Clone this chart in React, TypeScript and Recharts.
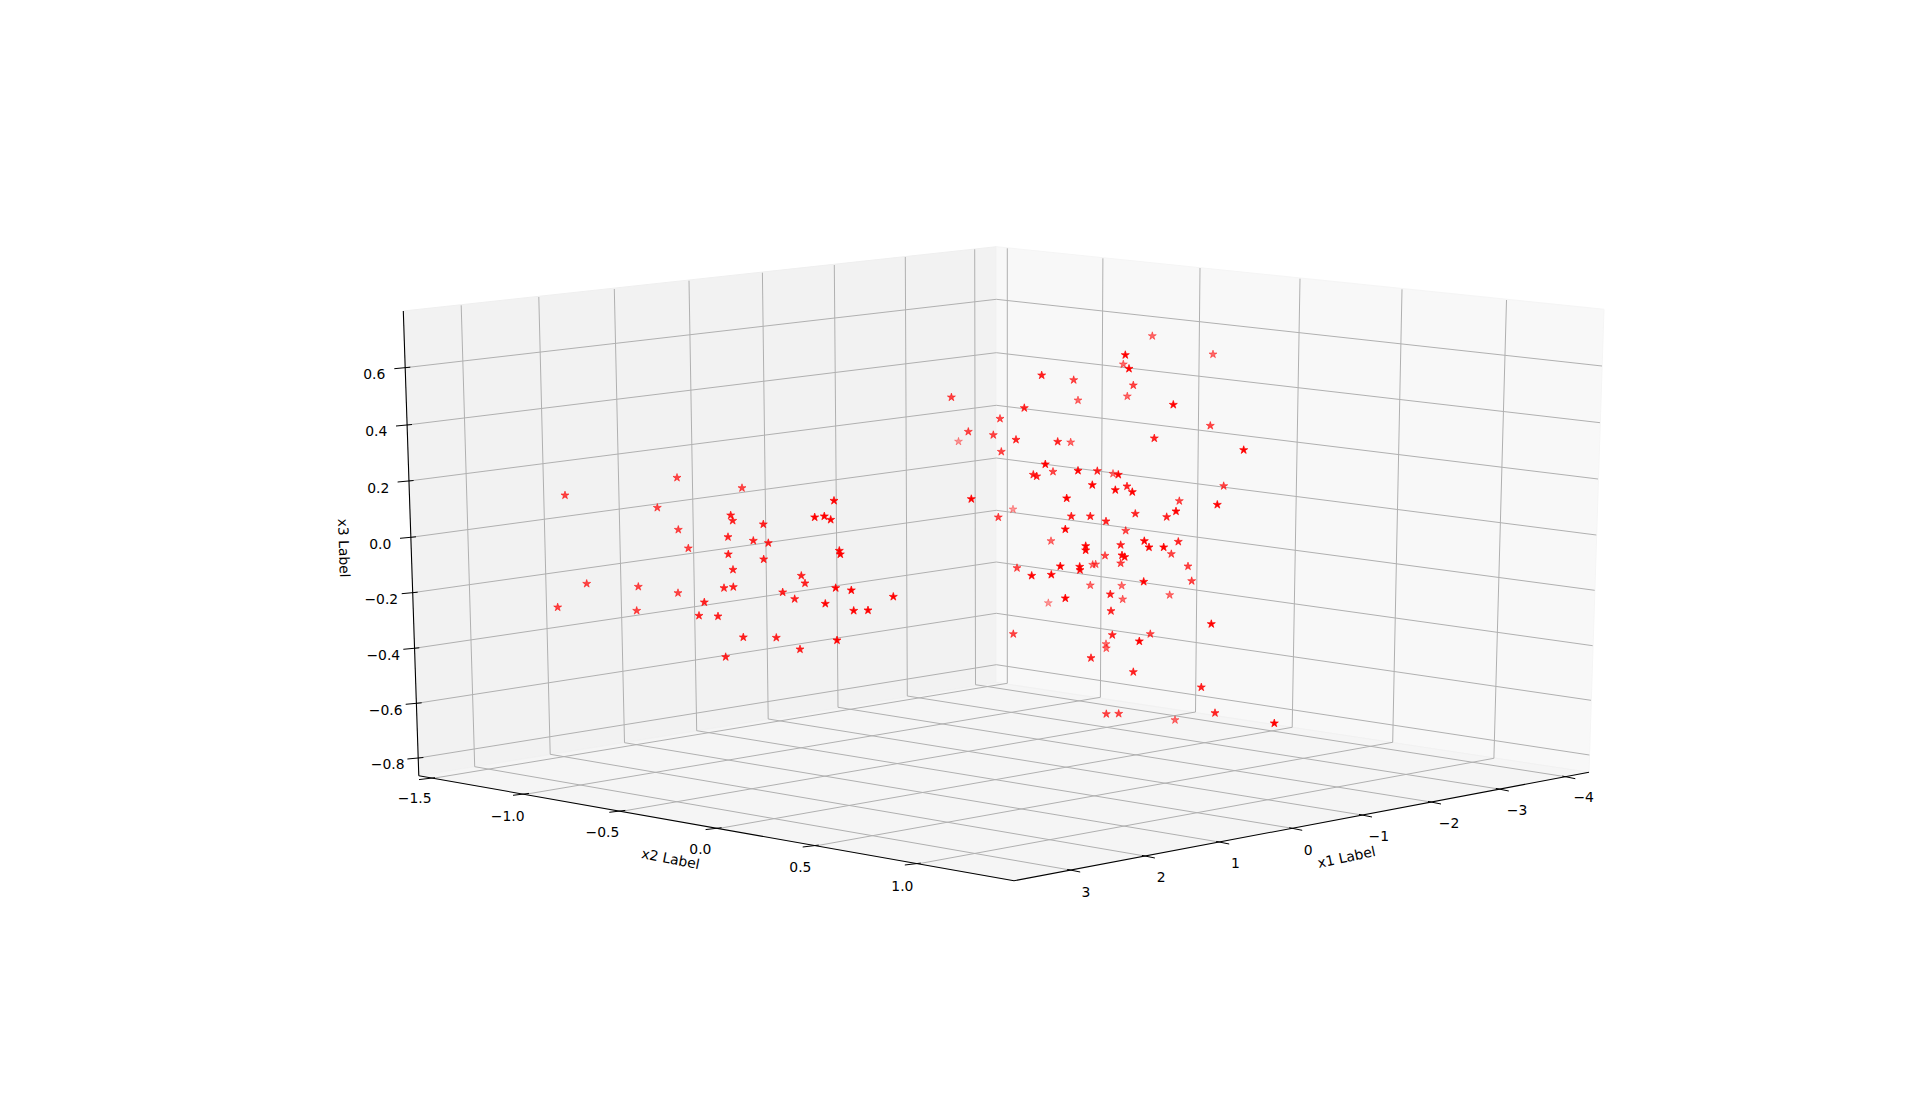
import React from 'react';
import { ScatterChart, Scatter, XAxis, YAxis, Symbols } from 'recharts';

type P = [number, number];

// Projected (plane) readings of the 3D scatter, grouped by depth shade.
const starsNear: P[] = [[814.7,517.3],[825.3,603.7],[839.3,550.7],[840.3,554.3],[853.7,610.7],[868,610.3],[893.3,596.7],[837,640.3],[834,500.7],[824.3,516.3],[830.7,519.7],[851.3,590.3],[835.7,588],[971.3,499],[1125.3,355],[1129,368.7],[1173.3,404.7],[1045.3,464.3],[1078,470.7],[1118.3,474.7],[1092.3,485],[1115.3,490],[1132.3,492],[1066.7,498.3],[1217.3,504.7],[1176,511.3],[1143.7,581.7],[1149,547.3],[1144.3,541],[1163.7,547.3],[1079.7,566.7],[1080,570],[1122,555.3],[1124.7,557],[1065.3,598.3],[1031.7,575.7],[1211.3,624],[1139.3,641.3],[1274.3,723.3],[1243.7,450],[1085.7,546],[1085.7,550.3],[1065.3,529.3],[1060.3,566.3],[1051.3,574.7]];
const starsMid: P[] = [[763.3,524.3],[768.3,543],[753.3,540.7],[763.7,559.3],[801.3,575.7],[805,583.3],[782.7,592.3],[794.7,599],[743.3,637.3],[776.3,637.7],[800,649.3],[725.7,657],[733,569.7],[733.3,587],[724,588],[728,537],[728.3,554.3],[730.7,515.3],[732.7,520.7],[704.3,602.3],[699,615.7],[718,616.3],[1024.3,408],[1016,439.7],[1057.7,441.7],[1154.3,438.3],[1097.3,471],[1127,486.3],[1033.3,474.7],[1036.7,476.3],[1106,521.3],[1071.3,516.3],[1090.3,516.3],[1135.3,513.7],[1166.7,517],[1178.3,541.7],[1120.7,545],[1110.3,594.3],[1111,611],[1112.3,635],[1133.3,672],[1201.3,687.3],[1215,713],[1041.7,375.3],[1091,658]];
const starsFar: P[] = [[565,495.3],[677,477.7],[742,488],[657.3,507.7],[678.3,529.7],[688.3,548.3],[586.7,583.7],[638.3,586.7],[678,593],[557.7,607.3],[636.7,610.7],[1210.3,425.7],[1000,418.7],[968.3,431.7],[993.3,435],[1001.3,451.7],[998.3,517.3],[1053,471.7],[1223.7,486],[1179.3,501],[1125.7,530.7],[1105,555.7],[1120.7,563.3],[1188,566.3],[1191.7,581],[1171.3,554],[1017,568],[1013.3,634],[1150.3,634],[1106.3,714],[1118.7,713.7],[951.4,397.3],[1073.7,380],[1133.3,385.3]];
const starsFarther: P[] = [[1152.3,336],[1213,354.3],[1123.3,364.3],[1127.3,396.3],[1078,400.3],[1070.7,442.3],[1113,473.7],[1051,541],[1092.7,564.7],[1095.7,564.3],[1090.3,585.3],[1121.7,585.7],[1122.7,599.3],[1169.7,595],[1106,644],[1106.3,648.3],[1175,720]];
const starsFarthest: P[] = [[958.5,441.5],[1013,509.3],[1048.3,603]];
const starGroups: [P[], number][] = [[starsFarthest,0.4],[starsFarther,0.58],[starsFar,0.72],[starsMid,0.86],[starsNear,1]];

// Pane outlines
const leftPane: P[] = [[403.3,311],[996.3,246.7],[996.3,682.5],[418.8,775.7]];
const rightPane: P[] = [[996.3,246.7],[1604,309.3],[1589,772.3],[996.3,682.5]];
const floorPane: P[] = [[418.8,775.7],[996.3,682.5],[1589,772.3],[1014,880.7]];

// Tick labels
const x1Labels = ['3','2','1','0','\u22121','\u22122','\u22123','\u22124'];
const x2Labels = ['\u22121.5','\u22121.0','\u22120.5','0.0','0.5','1.0'];
const x3Labels = ['0.6','0.4','0.2','0.0','\u22120.2','\u22120.4','\u22120.6','\u22120.8'];

// x1 grid: wall top, wall bottom, axis foot, label anchor
const x1Top: P[] = [[461.2,305.3],[538.8,297],[614.3,289],[689,280.7],[762.4,272.7],[834.3,265],[905.3,257],[974.7,249.3]];
const x1Bottom: P[] = [[474.7,766.7],[550.2,754.3],[624.5,742.7],[696.7,730.7],[768.2,719],[838,707.3],[907.3,696],[975.5,684.7]];
const x1Foot: P[] = [[1070.2,870],[1144.9,856],[1219.2,842],[1292.2,828.3],[1362,815],[1431,802],[1498.8,789],[1565.3,776.7]];
const x1LabelAt: P[] = [[1086,892.3],[1161.2,877.3],[1235.5,863.3],[1308.2,850.3],[1378.8,836.3],[1449,823],[1517,810.3],[1583.7,797.3]];

// x2 grid
const x2Top: P[] = [[1007.3,248.3],[1102.9,258.3],[1200,268],[1300,278.7],[1402,289.3],[1506.5,300]];
const x2Bottom: P[] = [[1007.3,683.3],[1100.4,697.3],[1195.5,712],[1292.2,727.3],[1392.7,742.3],[1493.9,758.3]];
const x2Foot: P[] = [[433,778.3],[527,794],[623.3,811],[719.6,828.3],[816.7,845.7],[918.8,863.7]];
const x2LabelAt: P[] = [[414.7,798.3],[507.7,815.7],[602.4,832.3],[700.4,849.3],[800.4,867],[902.4,886]];

// x3 grid
const x3Left: P[] = [[405.3,367.7],[407,425],[408.6,481],[411,537.3],[412.7,592.7],[414.3,648.3],[416.7,703.3],[418.4,758]];
const x3Corner: P[] = [[996.3,299.3],[996.3,352.7],[996.3,405.3],[996.3,458],[996.3,510.3],[996.3,562],[996.3,613.3],[996.3,664.7]];
const x3Right: P[] = [[1602,366],[1600,422.7],[1598,479],[1596.3,535],[1594.7,590.3],[1592.7,645.7],[1591,700.3],[1589.4,755]];
const x3LabelAt: P[] = [[374.3,374],[376.3,430.7],[378.3,488],[380.3,544],[381.3,599],[383.3,654.7],[385.7,710],[387.7,763.7]];

// Axis spines
const spines: P[][] = [
  [[403.3,311],[418.8,775.7]],
  [[418.8,775.7],[1014,880.7]],
  [[1014,880.7],[1589,772.3]],
];

const axisTitles: { at: P; text: string; angle: number }[] = [
  { at: [670.6,858.7], text: 'x2 Label', angle: 11 },
  { at: [1346.5,857], text: 'x1 Label', angle: -12 },
  { at: [344,548], text: 'x3 Label', angle: 88 },
];

const toXY = (p: P) => ({ x: p[0], y: p[1] });
const nothing = () => <g />;
const FONT = 'DejaVu Sans';

const seg = (pts: P[], stroke: string, width: number, key: string) => (
  <Scatter key={key} data={pts.map(toXY)} shape={nothing} line={{ stroke, strokeWidth: width }} isAnimationActive={false} />
);

const pane = (pts: P[], fill: string, edge: string, key: string) => (
  <Scatter key={key} data={[...pts, pts[0]].map(toXY)} shape={nothing} line={{ stroke: edge, strokeWidth: 1, fill }} isAnimationActive={false} />
);

const labelShape = (props: any) => {
  const { cx, cy, payload } = props;
  return (
    <text x={cx} y={cy} textAnchor="middle" dominantBaseline="central" fontFamily={FONT} fontSize={13.9} fill="#000"
      transform={payload.angle ? `rotate(${payload.angle} ${cx} ${cy})` : undefined}>{payload.text}</text>
  );
};

const labelSeries = (at: P[], texts: string[], key: string) => (
  <Scatter key={key} data={at.map((p, i) => ({ x: p[0], y: p[1], text: texts[i] }))} shape={labelShape} isAnimationActive={false} />
);

const starShape = (alpha: number) => (props: any) => (
  <Symbols cx={props.cx} cy={props.cy} type="star" size={20} sizeType="area"
    fill="#ff0000" fillOpacity={alpha} stroke="#ff0000" strokeOpacity={alpha * 0.7} strokeWidth={1} />
);

const GRID = '#b0b0b0';
const tickSeg = (p: P, a: P, b: P): P[] => [[p[0] + a[0], p[1] + a[1]], [p[0] + b[0], p[1] + b[1]]];

export default function App() {
  return (
    <div style={{ position: 'absolute', left: 0, top: 0, width: 1920, height: 1103, background: '#fff' }}>
      <ScatterChart width={1920} height={1103} margin={{ top: 0, right: 0, bottom: 0, left: 0 }}>
        <XAxis type="number" dataKey="x" domain={[0, 1920]} hide />
        <YAxis type="number" dataKey="y" domain={[0, 1103]} reversed hide />
        {pane(leftPane, '#f2f2f2', '#efefef', 'pl')}
        {pane(rightPane, '#f8f8f8', '#f5f5f5', 'pr')}
        {pane(floorPane, '#f5f5f5', '#f1f1f1', 'pf')}
        {x1Top.map((p, i) => seg([p, x1Bottom[i], x1Foot[i]], GRID, 1, `x1g${i}`))}
        {x2Top.map((p, i) => seg([p, x2Bottom[i], x2Foot[i]], GRID, 1, `x2g${i}`))}
        {x3Left.map((p, i) => seg([p, x3Corner[i], x3Right[i]], GRID, 1, `x3g${i}`))}
        {spines.map((s, i) => seg(s, '#000', 1.1, `sp${i}`))}
        {x1Foot.map((p, i) => seg(tickSeg(p, [-3, -0.6], [10, 2]), '#000', 1, `x1t${i}`))}
        {x2Foot.map((p, i) => seg(tickSeg(p, [-14, 1.3], [2, -0.6]), '#000', 1, `x2t${i}`))}
        {x3Left.map((p, i) => seg(tickSeg(p, [-11, 1], [5, -0.5]), '#000', 1, `x3t${i}`))}
        {labelSeries(x1LabelAt, x1Labels, 'x1l')}
        {labelSeries(x2LabelAt, x2Labels, 'x2l')}
        {labelSeries(x3LabelAt, x3Labels, 'x3l')}
        <Scatter data={axisTitles.map(t => ({ x: t.at[0], y: t.at[1], text: t.text, angle: t.angle }))} shape={labelShape} isAnimationActive={false} />
        {starGroups.map(([pts, alpha], i) => (
          <Scatter key={`s${i}`} data={pts.map(toXY)} shape={starShape(alpha)} fill="#ff0000" isAnimationActive={false} />
        ))}
      </ScatterChart>
    </div>
  );
}
